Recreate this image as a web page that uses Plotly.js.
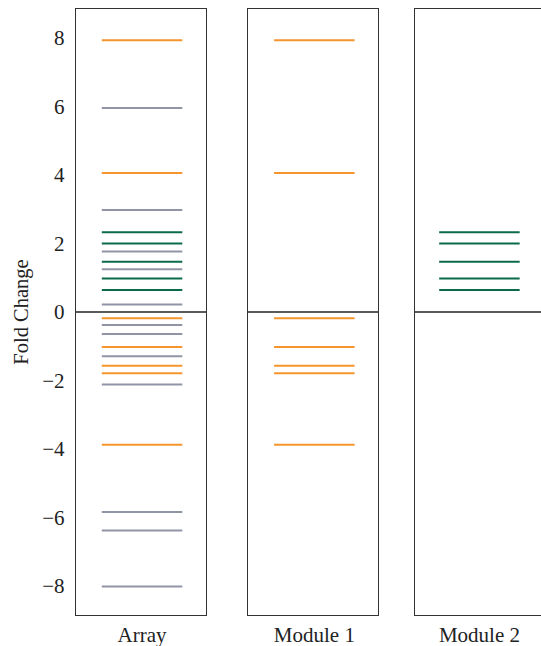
<!DOCTYPE html>
<html>
<head>
<meta charset="utf-8">
<script src="https://cdn.plot.ly/plotly-3.0.1.min.js"></script>
<style>
html,body{margin:0;padding:0;background:#fff;overflow:hidden;}
#chart{width:541px;height:646px;}
</style>
</head>
<body>
<div id="chart"></div>
<script>
// ---- data ----
var categories = ['Array', 'Module 1', 'Module 2'];
var orangeValues = [7.94, 4.06, -0.18, -1.02, -1.57, -1.79, -3.88];
var greenValues = [2.33, 2.0, 1.47, 0.98, 0.64];
var grayValues = [5.96, 2.98, 1.77, 1.25, 0.22, -0.38, -0.64, -1.29, -2.12, -5.84, -6.38, -8.02];
var yTickVals = [-8, -6, -4, -2, 0, 2, 4, 6, 8];

// ---- styles ----
var ORANGE = '#f4962c', GREEN = '#0a6a4a', GRAY = '#9095a6';
var FONT = 'Liberation Serif, Times New Roman, serif';
var center = 0.51;
var segSize = 57.5;

function seg(values, color, axisIdx) {
  var sfx = axisIdx === 1 ? '' : String(axisIdx);
  return {
    type: 'scatter', mode: 'markers',
    x: values.map(function () { return center; }),
    y: values,
    xaxis: 'x' + sfx, yaxis: 'y' + sfx,
    marker: {symbol: 'line-ew', size: segSize, color: color, line: {color: color, width: 2}},
    hoverinfo: 'skip', showlegend: false
  };
}

var traces = [
  seg(grayValues, GRAY, 1),
  seg(greenValues, GREEN, 1),
  seg(orangeValues, ORANGE, 1),
  seg(orangeValues, ORANGE, 2),
  seg(greenValues, GREEN, 3)
];

var yRange = [-8.85, 8.85];
function xAx(dom, label, mirror) {
  return {
    domain: dom, range: [0, 1], fixedrange: true,
    showgrid: false, zeroline: false,
    showline: true, linecolor: '#333', linewidth: 1.3, mirror: mirror,
    tickvals: [center], ticktext: [label], ticks: '',
    tickfont: {family: FONT, size: 21, color: '#222'}
  };
}
function yAx(anchor, showLabels, mirror) {
  var a = {
    anchor: anchor, range: yRange, fixedrange: true,
    showgrid: false, zeroline: true, zerolinecolor: '#5a5a5a', zerolinewidth: 1.6,
    showline: true, linecolor: '#333', linewidth: 1.3, mirror: mirror,
    tickvals: yTickVals, ticks: '', showticklabels: showLabels,
    ticklabelstandoff: 6,
    tickfont: {family: FONT, size: 21, color: '#222'}
  };
  return a;
}

var layout = {
  width: 541, height: 646,
  margin: {l: 76, r: 0, t: 9, b: 31},
  paper_bgcolor: '#fff', plot_bgcolor: '#fff',
  font: {family: FONT, color: '#222'},
  xaxis: xAx([0, 0.2785], categories[0], true),
  xaxis2: xAx([0.370, 0.6495], categories[1], true),
  xaxis3: xAx([0.7297, 1], categories[2], true),
  yaxis: Object.assign(yAx('x', true, true), {
    title: {text: 'Fold Change', font: {family: FONT, size: 20.5, color: '#222'}, standoff: 8}
  }),
  yaxis2: yAx('x2', false, true),
  yaxis3: yAx('x3', false, false)
};

Plotly.newPlot('chart', traces, layout, {staticPlot: true, displayModeBar: false});
</script>
</body>
</html>
